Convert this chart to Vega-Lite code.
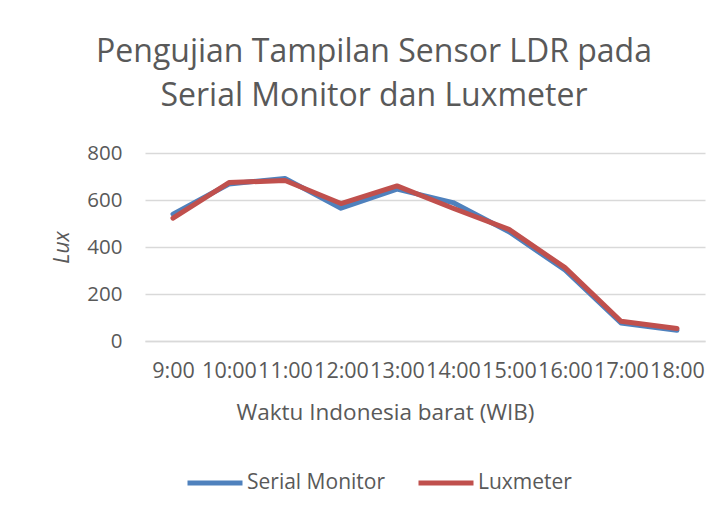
{
  "$schema": "https://vega.github.io/schema/vega-lite/v6.json",
  "width": 560,
  "height": 188,
  "autosize": {"type": "none"},
  "padding": {"left": 145, "top": 153, "right": 18, "bottom": 175},
  "background": "white",
  "config": {
    "font": "Open Sans",
    "view": {"stroke": null},
    "axis": {"labelColor": "#595959", "titleColor": "#595959", "labelFontSize": 20.5, "titleFontSize": 22, "titleFontWeight": "normal", "gridColor": "#D9D9D9", "gridWidth": 1.5}
  },
  "title": {
    "text": ["Pengujian Tampilan Sensor LDR pada", "Serial Monitor dan Luxmeter"],
    "fontSize": 32,
    "fontWeight": "normal",
    "color": "#595959",
    "lineHeight": 44,
    "anchor": "middle",
    "dx": -51,
    "offset": 30
  },
  "data": {
    "values": [
      {"time": "9:00", "series": "Serial Monitor", "lux": 540},
      {"time": "10:00", "series": "Serial Monitor", "lux": 668},
      {"time": "11:00", "series": "Serial Monitor", "lux": 692},
      {"time": "12:00", "series": "Serial Monitor", "lux": 565},
      {"time": "13:00", "series": "Serial Monitor", "lux": 646},
      {"time": "14:00", "series": "Serial Monitor", "lux": 589},
      {"time": "15:00", "series": "Serial Monitor", "lux": 465},
      {"time": "16:00", "series": "Serial Monitor", "lux": 302},
      {"time": "17:00", "series": "Serial Monitor", "lux": 77},
      {"time": "18:00", "series": "Serial Monitor", "lux": 46},
      {"time": "9:00", "series": "Luxmeter", "lux": 523},
      {"time": "10:00", "series": "Luxmeter", "lux": 674},
      {"time": "11:00", "series": "Luxmeter", "lux": 683},
      {"time": "12:00", "series": "Luxmeter", "lux": 585},
      {"time": "13:00", "series": "Luxmeter", "lux": 660},
      {"time": "14:00", "series": "Luxmeter", "lux": 565},
      {"time": "15:00", "series": "Luxmeter", "lux": 475},
      {"time": "16:00", "series": "Luxmeter", "lux": 312},
      {"time": "17:00", "series": "Luxmeter", "lux": 84},
      {"time": "18:00", "series": "Luxmeter", "lux": 53}
    ]
  },
  "mark": {"type": "line", "strokeWidth": 5, "strokeCap": "round", "strokeJoin": "round"},
  "encoding": {
    "x": {
      "field": "time", "type": "ordinal", "sort": null,
      "scale": {"paddingInner": 1, "paddingOuter": 0.5},
      "axis": {"title": "Waktu Indonesia barat (WIB)", "labelAngle": 0, "ticks": false, "tickSize": 0, "labelPadding": 19, "labelOverlap": false, "labelFontSize": 21.5, "domainColor": "#D9D9D9", "domainWidth": 1.5, "titleX": 240, "titleY": 71, "titleAlign": "center", "titleBaseline": "middle", "titleFontSize": 22.5}
    },
    "y": {
      "field": "lux", "type": "quantitative",
      "scale": {"domain": [0, 800]},
      "axis": {"title": "Lux", "titleFontStyle": "italic", "titleFontSize": 21, "values": [0, 200, 400, 600, 800], "ticks": false, "tickSize": 0, "domain": false, "labelPadding": 23, "titlePadding": 14}
    },
    "color": {
      "field": "series", "type": "nominal", "sort": ["Serial Monitor", "Luxmeter"],
      "scale": {"domain": ["Serial Monitor", "Luxmeter"], "range": ["#4F81BD", "#C0504D"]},
      "legend": {"title": null, "orient": "none", "direction": "horizontal", "legendX": 40, "legendY": 300, "symbolType": "stroke", "symbolSize": 3025, "symbolStrokeWidth": 5, "labelFontSize": 21, "labelColor": "#595959", "labelOffset": 2, "columnPadding": 22}
    },
    "order": {"value": 0}
  }
}
